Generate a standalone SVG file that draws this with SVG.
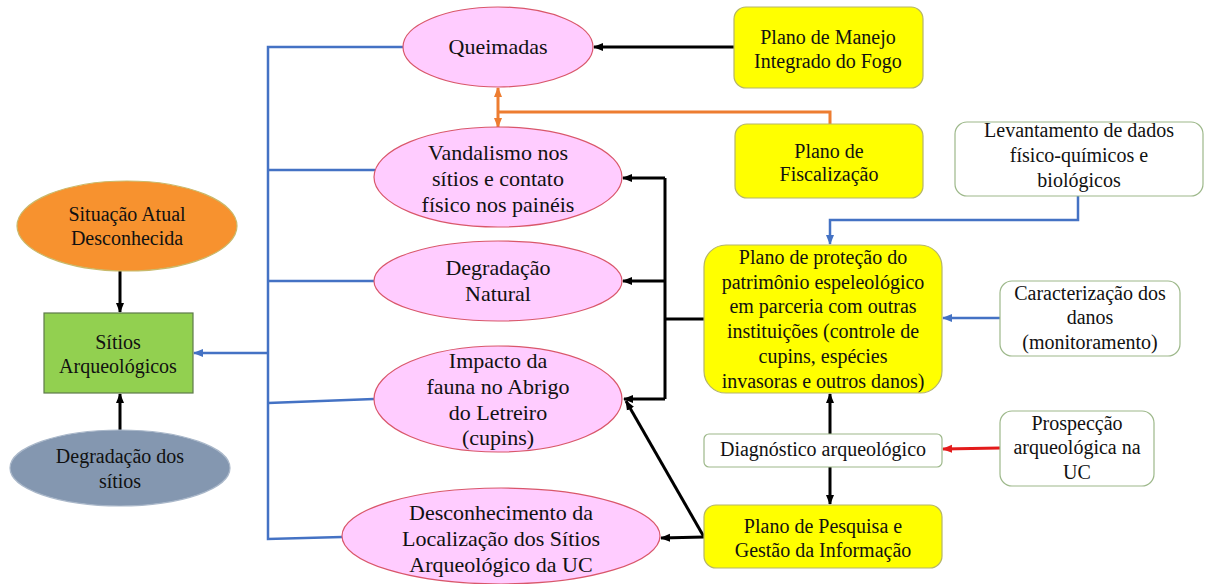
<svg xmlns="http://www.w3.org/2000/svg" width="1205" height="584" viewBox="0 0 1205 584" font-family="'Liberation Serif', 'DejaVu Serif', serif">
<style>
text{font-family:'Liberation Serif','DejaVu Serif',serif;fill:#111;text-anchor:middle}
.t20{font-size:20px}
.t22{font-size:22px}
.pink{fill:#FFCCFF;stroke:#D9576B;stroke-width:1.2}
.yel{fill:#FFFF00;stroke:#B5B56A;stroke-width:1.2}
.wht{fill:#FFFFFF;stroke:#9DB88A;stroke-width:1.2}
.blue{stroke:#4472C4;stroke-width:2.5;fill:none}
.blk{stroke:#000;stroke-width:3;fill:none}
.org{stroke:#ED7D31;stroke-width:3;fill:none}
.red{stroke:#E31B1B;stroke-width:3;fill:none}
</style>
<defs>
<marker id="ab" viewBox="0 0 10 10" refX="9" refY="5" markerWidth="10" markerHeight="10" markerUnits="userSpaceOnUse" orient="auto"><path d="M0,1 L10,5 L0,9 z" fill="#000"/></marker>
<marker id="abl" viewBox="0 0 10 10" refX="9" refY="5" markerWidth="10" markerHeight="10" markerUnits="userSpaceOnUse" orient="auto"><path d="M0,1 L10,5 L0,9 z" fill="#4472C4"/></marker>
<marker id="ao" viewBox="0 0 10 10" refX="9" refY="5" markerWidth="10" markerHeight="10" markerUnits="userSpaceOnUse" orient="auto-start-reverse"><path d="M0,1 L10,5 L0,9 z" fill="#ED7D31"/></marker>
<marker id="ar" viewBox="0 0 10 10" refX="9" refY="5" markerWidth="10" markerHeight="10" markerUnits="userSpaceOnUse" orient="auto"><path d="M0,1 L10,5 L0,9 z" fill="#E31B1B"/></marker>
</defs>

<g id="connectors">
  <line class="blk" x1="120" y1="271" x2="120" y2="312" marker-end="url(#ab)"/>
  <line class="blk" x1="120" y1="430" x2="120" y2="394" marker-end="url(#ab)"/>
  <polyline class="blue" points="403,47 268,47 268,539 342,537"/>
  <line class="blue" x1="268" y1="170" x2="375" y2="170"/>
  <line class="blue" x1="268" y1="281" x2="374" y2="281"/>
  <line class="blue" x1="268" y1="403" x2="374" y2="399"/>
  <line class="blue" x1="268" y1="353" x2="194" y2="353" marker-end="url(#abl)"/>
  <line class="blk" x1="734" y1="47" x2="594" y2="47" marker-end="url(#ab)"/>
  <line class="org" x1="498" y1="88" x2="498" y2="127" marker-start="url(#ao)" marker-end="url(#ao)"/>
  <polyline class="org" points="498,112 830,112 830,124"/>
  <line class="blk" x1="704" y1="319" x2="665" y2="319"/>
  <line class="blk" x1="665" y1="178" x2="665" y2="399"/>
  <line class="blk" x1="665" y1="178" x2="623" y2="178" marker-end="url(#ab)"/>
  <line class="blk" x1="665" y1="281" x2="623" y2="281" marker-end="url(#ab)"/>
  <line class="blk" x1="665" y1="399" x2="624" y2="399" marker-end="url(#ab)"/>
  <line class="blk" x1="704" y1="537" x2="626" y2="401" marker-end="url(#ab)"/>
  <line class="blk" x1="704" y1="537" x2="661" y2="538" marker-end="url(#ab)"/>
  <polyline class="blue" points="1078,196 1078,220 830,220 830,244" marker-end="url(#abl)"/>
  <line class="blue" x1="1000" y1="318" x2="943" y2="318" marker-end="url(#abl)"/>
  <line class="blk" x1="830" y1="434" x2="830" y2="394" marker-end="url(#ab)"/>
  <line class="blk" x1="830" y1="467" x2="830" y2="504" marker-end="url(#ab)"/>
  <line class="red" x1="1000" y1="448" x2="943" y2="449" marker-end="url(#ar)"/>
</g>

<g id="situacao">
  <ellipse cx="127" cy="226" rx="110" ry="45" fill="#F7922F" stroke="#C9B96A" stroke-width="1.2"/>
  <text class="t20" x="127" y="221">Situação Atual</text>
  <text class="t20" x="127" y="245">Desconhecida</text>
</g>
<g id="sitios">
  <rect x="44" y="313" width="149" height="80" fill="#92D050" stroke="#5E7A4A" stroke-width="1.2"/>
  <text class="t20" x="118" y="349">Sítios</text>
  <text class="t20" x="118" y="373">Arqueológicos</text>
</g>
<g id="degradacao-sitios">
  <ellipse cx="120" cy="468" rx="110" ry="38" fill="#8497B0" stroke="#A9B7C9" stroke-width="1.2"/>
  <text class="t20" x="120" y="463">Degradação  dos</text>
  <text class="t20" x="120" y="488">sítios</text>
</g>

<g id="queimadas">
  <ellipse class="pink" cx="498" cy="47" rx="95" ry="40"/>
  <text class="t22" x="498" y="54">Queimadas</text>
</g>
<g id="vandalismo">
  <ellipse class="pink" cx="498" cy="177" rx="124" ry="50"/>
  <text class="t22" x="498" y="160">Vandalismo nos</text>
  <text class="t22" x="498" y="186">sítios e contato</text>
  <text class="t22" x="498" y="212">físico nos painéis</text>
</g>
<g id="degradacao-natural">
  <ellipse class="pink" cx="498" cy="281" rx="124" ry="40"/>
  <text class="t22" x="498" y="275">Degradação</text>
  <text class="t22" x="498" y="301">Natural</text>
</g>
<g id="impacto">
  <ellipse class="pink" cx="498" cy="399" rx="124" ry="53"/>
  <text class="t22" x="498" y="368">Impacto da</text>
  <text class="t22" x="498" y="394">fauna no Abrigo</text>
  <text class="t22" x="498" y="420">do Letreiro</text>
  <text class="t22" x="498" y="445">(cupins)</text>
</g>
<g id="desconhecimento">
  <ellipse class="pink" cx="501" cy="536" rx="159" ry="48"/>
  <text class="t22" x="501" y="520">Desconhecimento da</text>
  <text class="t22" x="501" y="546">Localização  dos Sítios</text>
  <text class="t22" x="501" y="572">Arqueológico da UC</text>
</g>

<g id="plano-manejo">
  <rect class="yel" x="734" y="7" width="189" height="81" rx="12"/>
  <text class="t20" x="828" y="44">Plano de Manejo</text>
  <text class="t20" x="828" y="68">Integrado  do Fogo</text>
</g>
<g id="plano-fiscalizacao">
  <rect class="yel" x="735" y="124" width="188" height="74" rx="12"/>
  <text class="t20" x="829" y="158">Plano de</text>
  <text class="t20" x="829" y="181">Fiscalização</text>
</g>
<g id="levantamento">
  <rect class="wht" x="955" y="122" width="248" height="74" rx="12"/>
  <text class="t20" x="1079" y="137">Levantamento  de dados</text>
  <text class="t20" x="1079" y="162">físico-químicos  e</text>
  <text class="t20" x="1079" y="187">biológicos</text>
</g>
<g id="plano-protecao">
  <rect class="yel" x="704" y="245" width="238" height="148" rx="22"/>
  <text class="t20" x="823" y="264">Plano de proteção  do</text>
  <text class="t20" x="823" y="289">patrimônio  espeleológico</text>
  <text class="t20" x="823" y="313">em parceria  com outras</text>
  <text class="t20" x="823" y="338">instituições (controle de</text>
  <text class="t20" x="823" y="363">cupins, espécies</text>
  <text class="t20" x="823" y="388">invasoras  e outros danos)</text>
</g>
<g id="caracterizacao">
  <rect class="wht" x="1000" y="281" width="180" height="75" rx="12"/>
  <text class="t20" x="1090" y="300">Caracterização  dos</text>
  <text class="t20" x="1090" y="324">danos</text>
  <text class="t20" x="1090" y="349">(monitoramento)</text>
</g>
<g id="diagnostico">
  <rect class="wht" x="704" y="434" width="238" height="33" rx="5"/>
  <text class="t20" x="823" y="456">Diagnóstico  arqueológico</text>
</g>
<g id="prospeccao">
  <rect class="wht" x="1000" y="411" width="154" height="75" rx="12"/>
  <text class="t20" x="1077" y="430">Prospecção</text>
  <text class="t20" x="1077" y="454">arqueológica na</text>
  <text class="t20" x="1077" y="479">UC</text>
</g>
<g id="plano-pesquisa">
  <rect class="yel" x="704" y="505" width="238" height="63" rx="12"/>
  <text class="t20" x="823" y="533">Plano de Pesquisa  e</text>
  <text class="t20" x="823" y="557">Gestão  da Informação</text>
</g>
</svg>
